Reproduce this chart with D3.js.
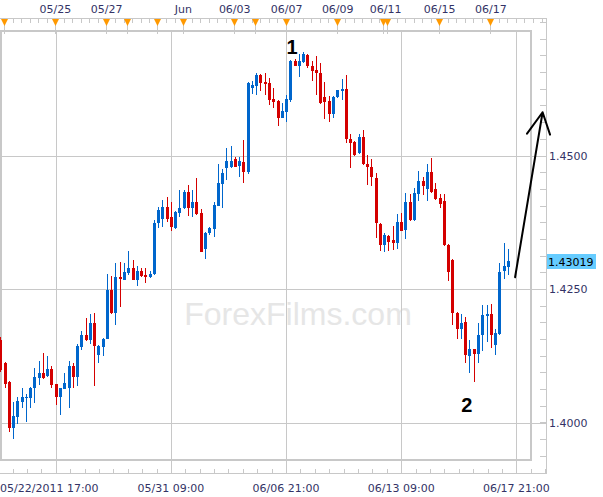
<!DOCTYPE html>
<html><head><meta charset="utf-8">
<script src="https://cdn.jsdelivr.net/npm/d3@7"></script>
<style>body{margin:0;background:#fff} svg{display:block}</style>
</head><body>
<script>
// ---- data (EUR/USD 4H) ----
const opens = [1.4154,1.4111,1.4075,1.3990,1.4010,1.4038,1.4045,1.4046,1.4065,1.4083,
1.4093,1.4087,1.4100,1.4072,1.4048,1.4063,1.4065,1.4105,1.4085,1.4142,
1.4163,1.4154,1.4187,1.4126,1.4142,1.4157,1.4249,1.4205,1.4273,1.4267,
1.4280,1.4289,1.4267,1.4283,1.4276,1.4272,1.4278,1.4374,1.4381,1.4403,
1.4385,1.4365,1.4393,1.4401,1.4432,1.4402,1.4412,1.4392,1.4325,1.4354,
1.4362,1.4406,1.4446,1.4476,1.4479,1.4493,1.4480,1.4488,1.4470,1.4626,
1.4631,1.4651,1.4637,1.4635,1.4606,1.4602,1.4571,1.4582,1.4604,1.4677,
1.4668,1.4675,1.4688,1.4668,1.4660,1.4654,1.4610,1.4602,1.4578,1.4609,
1.4621,1.4625,1.4531,1.4525,1.4505,1.4534,1.4485,1.4479,1.4458,1.4372,
1.4332,1.4350,1.4342,1.4337,1.4376,1.4360,1.4412,1.4379,1.4427,1.4452,
1.4437,1.4469,1.4437,1.4420,1.4414,1.4333,1.4305,1.4205,1.4176,1.4189,
1.4124,1.4137,1.4129,1.4163,1.4199,1.4203,1.4145,1.4165,1.4283,1.4292];
const highs = [1.4160,1.4113,1.4077,1.4038,1.4047,1.4065,1.4053,1.4066,1.4102,1.4115,
1.4130,1.4124,1.4105,1.4073,1.4065,1.4093,1.4115,1.4111,1.4147,1.4171,
1.4196,1.4203,1.4205,1.4145,1.4158,1.4278,1.4274,1.4299,1.4300,1.4299,
1.4321,1.4304,1.4293,1.4290,1.4289,1.4283,1.4379,1.4403,1.4417,1.4422,
1.4413,1.4396,1.4435,1.4435,1.4445,1.4435,1.4458,1.4399,1.4356,1.4367,
1.4412,1.4484,1.4474,1.4514,1.4517,1.4497,1.4497,1.4529,1.4638,1.4640,
1.4654,1.4653,1.4654,1.4645,1.4626,1.4604,1.4599,1.4614,1.4678,1.4680,
1.4690,1.4694,1.4690,1.4677,1.4687,1.4674,1.4637,1.4612,1.4612,1.4623,
1.4643,1.4651,1.4540,1.4527,1.4540,1.4548,1.4501,1.4493,1.4467,1.4374,
1.4354,1.4352,1.4368,1.4390,1.4393,1.4429,1.4428,1.4439,1.4471,1.4460,
1.4484,1.4495,1.4448,1.4428,1.4428,1.4335,1.4307,1.4207,1.4203,1.4198,
1.4155,1.4138,1.4187,1.4220,1.4220,1.4222,1.4176,1.4299,1.4337,1.4325];
const lows = [1.4094,1.4064,1.3982,1.3969,1.3998,1.4027,1.4001,1.4027,1.4037,1.4070,
1.4082,1.4086,1.4064,1.4032,1.4014,1.4062,1.4027,1.4065,1.4068,1.4135,
1.4153,1.4147,1.4068,1.4112,1.4125,1.4156,1.4204,1.4183,1.4217,1.4266,
1.4277,1.4266,1.4256,1.4273,1.4262,1.4271,1.4277,1.4365,1.4367,1.4376,
1.4359,1.4363,1.4385,1.4400,1.4387,1.4385,1.4389,1.4319,1.4306,1.4352,
1.4348,1.4405,1.4401,1.4455,1.4476,1.4478,1.4459,1.4449,1.4465,1.4615,
1.4614,1.4620,1.4614,1.4595,1.4589,1.4555,1.4570,1.4562,1.4601,1.4667,
1.4647,1.4674,1.4664,1.4640,1.4614,1.4597,1.4568,1.4563,1.4571,1.4608,
1.4604,1.4523,1.4476,1.4500,1.4503,1.4483,1.4444,1.4442,1.4346,1.4321,
1.4320,1.4321,1.4323,1.4325,1.4358,1.4343,1.4378,1.4378,1.4414,1.4426,
1.4414,1.4430,1.4417,1.4402,1.4331,1.4265,1.4182,1.4157,1.4157,1.4112,
1.4092,1.4075,1.4112,1.4134,1.4151,1.4140,1.4127,1.4164,1.4268,1.4276];
const closes = [1.4098,1.4073,1.3990,1.4012,1.4040,1.4047,1.4047,1.4065,1.4085,1.4093,
1.4083,1.4100,1.4070,1.4048,1.4064,1.4074,1.4105,1.4085,1.4143,1.4163,
1.4154,1.4187,1.4143,1.4143,1.4157,1.4249,1.4205,1.4272,1.4269,1.4281,
1.4289,1.4267,1.4284,1.4274,1.4273,1.4279,1.4374,1.4398,1.4403,1.4381,
1.4367,1.4394,1.4402,1.4432,1.4401,1.4412,1.4390,1.4320,1.4355,1.4364,
1.4407,1.4448,1.4467,1.4490,1.4489,1.4479,1.4489,1.4470,1.4636,1.4632,
1.4651,1.4635,1.4634,1.4604,1.4601,1.4571,1.4583,1.4606,1.4677,1.4668,
1.4677,1.4690,1.4667,1.4659,1.4654,1.4598,1.4601,1.4578,1.4609,1.4622,
1.4624,1.4530,1.4524,1.4501,1.4535,1.4484,1.4478,1.4459,1.4373,1.4332,
1.4352,1.4338,1.4337,1.4376,1.4359,1.4412,1.4379,1.4430,1.4452,1.4442,
1.4469,1.4432,1.4418,1.4410,1.4332,1.4282,1.4205,1.4176,1.4187,1.4126,
1.4137,1.4129,1.4163,1.4201,1.4203,1.4163,1.4167,1.4282,1.4293,1.4302];
const lastPrice = 1.43019;

const priceLabels = [1.4000, 1.4250, 1.4500];
const priceMinorStep = 0.003125;

const topLabels   = ["05/25","05/27","Jun","06/03","06/07","06/09","06/11","06/15","06/17"];
const topLabelIdx = [12.8, 24.8, 42.8, 54.85, 67.0, 79.0, 90.25, 102.9, 114.9];
const markerIdx   = [0.9, 12.8, 24.8, 29.8, 36.8, 42.8, 54.85, 59.8, 67.0, 79.0, 89.8, 90.7, 102.9, 114.9];

const bottomLabels   = ["05/22/2011 17:00","05/31 09:00","06/06 21:00","06/13 09:00","06/17 21:00"];
const bottomLabelIdx = [13, 40, 67, 94, 121];

const noteText  = ["1", "2"];
const noteIdx   = [68.4, 109.4];
const notePrice = [1.4690, 1.4019];
const arrowIdx   = [120.7, 127.15, 123.5, 127.15, 128.9];
const arrowPrice = [1.4272, 1.4581, 1.4541, 1.4581, 1.4539];

// ---- layout ----
const W = 603, H = 497;
const L = 0, R = 531, T = 31, B = 460;      // plot frame
const axisX = 546, topAxisY = 18, botAxisY = 473;
const GRID = "#c8c8c8", TXT = "#333366";
const UP = "#0066cc", DOWN = "#d40000";
const FONT = "DejaVu Sans, Verdana, sans-serif";

const x = d3.scaleLinear().domain([0, 1]).range([0.3, 4.565]);
const y = d3.scaleLinear().domain([1.40, 1.45]).range([422.5, 155.5]);

const svg = d3.select("body").append("svg").attr("width", W).attr("height", H)
  .style("font-family", FONT);

const px = v => Math.round(v) + 0.5;

// watermark
svg.append("text").attr("x", 298).attr("y", 325).attr("text-anchor", "middle")
  .attr("font-family", "Liberation Sans, Arial, sans-serif").attr("font-size", 32)
  .attr("fill", "#e6e6e6").text("ForexFilms.com");

// horizontal grid
svg.append("g").selectAll("line").data(priceLabels).join("line")
  .attr("x1", L).attr("x2", axisX).attr("y1", d => px(y(d))).attr("y2", d => px(y(d)))
  .attr("stroke", GRID).attr("stroke-width", 1);

// vertical grid
svg.append("g").selectAll("line").data(bottomLabelIdx).join("line")
  .attr("x1", d => px(x(d))).attr("x2", d => px(x(d))).attr("y1", T).attr("y2", botAxisY)
  .attr("stroke", GRID).attr("stroke-width", 1);

// axes lines
svg.append("line").attr("x1", 0).attr("x2", axisX + 0.5).attr("y1", topAxisY + 0.5).attr("y2", topAxisY + 0.5).attr("stroke", GRID);
svg.append("line").attr("x1", 0).attr("x2", axisX + 0.5).attr("y1", botAxisY + 0.5).attr("y2", botAxisY + 0.5).attr("stroke", GRID);
svg.append("line").attr("x1", axisX + 0.5).attr("x2", axisX + 0.5).attr("y1", topAxisY).attr("y2", botAxisY + 1).attr("stroke", GRID);

// right minor ticks
const minor = d3.range(1.39375, 1.4760, priceMinorStep);
svg.append("g").selectAll("line").data(minor).join("line")
  .attr("x1", axisX - 6).attr("x2", axisX).attr("y1", d => px(y(d))).attr("y2", d => px(y(d)))
  .attr("stroke", GRID);

// bottom minor ticks
const bTicks = d3.range(-3, 48).map(k => 13 + k * 27 / 8).filter(d => x(d) >= 0 && x(d) <= axisX);
svg.append("g").selectAll("line").data(bTicks).join("line")
  .attr("x1", d => px(x(d))).attr("x2", d => px(x(d))).attr("y1", botAxisY - 4).attr("y2", botAxisY)
  .attr("stroke", GRID);

// top minor ticks
const tTicks = d3.range(0.9, 128, 2).filter(d => x(d) <= axisX);
svg.append("g").selectAll("line").data(tTicks).join("line")
  .attr("x1", d => px(x(d))).attr("x2", d => px(x(d))).attr("y1", topAxisY).attr("y2", topAxisY + 5)
  .attr("stroke", GRID);

// marker stems + triangles
svg.append("g").selectAll("line").data(markerIdx).join("line")
  .attr("x1", d => px(x(d))).attr("x2", d => px(x(d))).attr("y1", 25).attr("y2", 34)
  .attr("stroke", GRID);
svg.append("g").selectAll("path").data(markerIdx).join("path")
  .attr("d", d => { const c = Math.round(x(d)) + 0.5; return `M${c-3.5},19 L${c+3.5},19 L${c},26 Z`; })
  .attr("fill", "#ff9900");

// frame
svg.append("rect").attr("x", L + 1).attr("y", T).attr("width", R - L - 1).attr("height", B - T)
  .attr("fill", "none").attr("stroke", GRID).attr("stroke-width", 2);

// candles
svg.append("clipPath").attr("id", "clip").append("rect")
  .attr("x", L).attr("y", T).attr("width", R - L).attr("height", B - T);
const idx = d3.range(opens.length);
const cg = svg.append("g").attr("clip-path", "url(#clip)").attr("shape-rendering", "crispEdges");
const col = i => closes[i] >= opens[i] ? UP : DOWN;
cg.selectAll("rect.w").data(idx).join("rect").attr("class", "w")
  .attr("x", i => Math.round(x(i))).attr("width", 1)
  .attr("y", i => Math.round(y(highs[i])))
  .attr("height", i => Math.max(1, Math.round(y(lows[i])) - Math.round(y(highs[i]))))
  .attr("fill", col);
cg.selectAll("rect.b").data(idx).join("rect").attr("class", "b")
  .attr("x", i => Math.round(x(i)) - 1).attr("width", 3)
  .attr("y", i => Math.round(y(Math.max(opens[i], closes[i]))))
  .attr("height", i => Math.max(1, Math.round(y(Math.min(opens[i], closes[i]))) - Math.round(y(Math.max(opens[i], closes[i])))))
  .attr("fill", col);

// right labels
svg.append("g").selectAll("text").data(priceLabels).join("text")
  .attr("x", axisX + 3).attr("y", d => y(d) + 4).attr("font-size", 11).attr("fill", TXT)
  .text(d3.format(".4f"));

// last price box
svg.append("rect").attr("x", axisX + 1).attr("y", Math.round(y(lastPrice)) - 7).attr("width", 49).attr("height", 15)
  .attr("fill", "#66ccff");
svg.append("text").attr("x", axisX + 2).attr("y", y(lastPrice) + 4.5).attr("font-size", 11).attr("fill", "#000")
  .text(d3.format(".5f")(lastPrice));

// top labels
svg.append("g").selectAll("text").data(topLabels).join("text")
  .attr("x", (d, i) => x(topLabelIdx[i]) + 0.5).attr("y", 13).attr("text-anchor", "middle")
  .attr("font-size", 11).attr("fill", TXT).text(d => d);

// bottom labels
svg.append("g").selectAll("text").data(bottomLabels).join("text")
  .attr("x", (d, i) => i === 0 ? 0 : x(bottomLabelIdx[i]))
  .attr("y", 492).attr("text-anchor", (d, i) => i === 0 ? "start" : "middle")
  .attr("font-size", 11).attr("fill", TXT).text(d => d);

// annotations
svg.append("g").selectAll("text").data(noteText).join("text")
  .attr("x", (d, i) => x(noteIdx[i])).attr("y", (d, i) => y(notePrice[i]))
  .attr("text-anchor", "middle").attr("font-family", "Liberation Sans, Arial, sans-serif")
  .attr("font-weight", "bold").attr("font-size", 20).attr("fill", "#000").text(d => d);

const arrowPts = arrowIdx.map((d, i) => [x(d), y(arrowPrice[i])]);
svg.append("path")
  .attr("d", `M${arrowPts[0]}L${arrowPts[1]}M${arrowPts[2]}L${arrowPts[3]}L${arrowPts[4]}`)
  .attr("fill", "none").attr("stroke", "#000").attr("stroke-width", 2)
  .attr("stroke-linejoin", "round").attr("stroke-linecap", "round");
</script>
</body></html>
